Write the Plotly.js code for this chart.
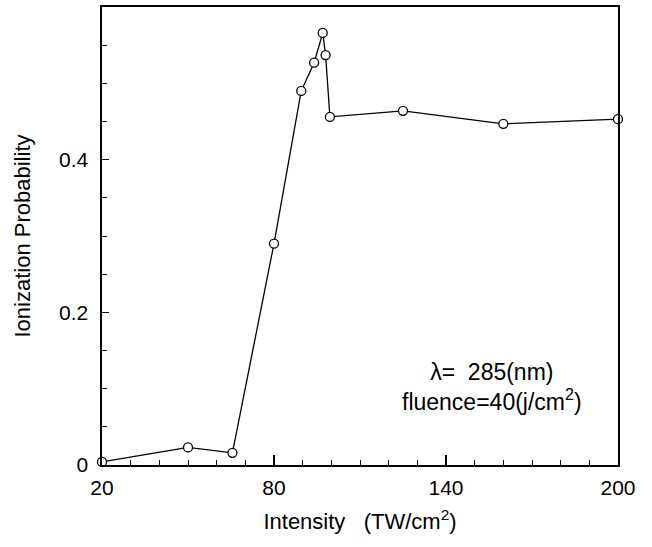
<!DOCTYPE html>
<html>
<head>
<meta charset="utf-8">
<script src="https://cdn.plot.ly/plotly-3.0.1.min.js"></script>
<style>html,body{margin:0;padding:0;background:#fff;}#chart{width:652px;height:547px;}</style>
</head>
<body>
<div id="chart"></div>
<script>
const intensity = [20, 50, 65.5, 80, 89.5, 94, 97, 98, 99.5, 125, 160, 200];
const probability = [0.004, 0.023, 0.016, 0.29, 0.49, 0.527, 0.566, 0.537, 0.456, 0.464, 0.447, 0.453];
const xTickVals = [20, 80, 140, 200];
const yTickVals = [0, 0.2, 0.4];
const yTickText = ['0', '0.2', '0.4'];
const noteText = 'λ=  285(nm)<br>fluence=40(j/cm<sup>2</sup>)';

const fontFam = 'Liberation Sans, Arial, sans-serif';

const trace = {
  x: intensity, y: probability, type: 'scatter', mode: 'lines+markers',
  line: {color: '#000', width: 1.3},
  marker: {symbol: 'circle', size: 9, color: '#fff', line: {color: '#000', width: 1.3}},
  cliponaxis: false, showlegend: false, hoverinfo: 'none'
};

const layout = {
  width: 652, height: 547,
  margin: {l: 102, r: 34, t: 7, b: 82},
  paper_bgcolor: '#fff', plot_bgcolor: '#fff',
  font: {family: fontFam, color: '#000', size: 21},
  xaxis: {
    range: [20, 200], tickvals: xTickVals, ticks: 'inside', ticklen: 10, tickwidth: 1.3, tickcolor: '#000',
    minor: {dtick: 10, ticks: 'inside', ticklen: 5, tickwidth: 1, tickcolor: '#000', showgrid: false},
    showline: true, linecolor: '#000', linewidth: 1.6, mirror: true, showgrid: false, zeroline: false,
    tickfont: {size: 21}, ticklabelstandoff: 3,
    title: {text: 'Intensity   (TW/cm<sup>2</sup>)', font: {size: 22}, standoff: 16}
  },
  yaxis: {
    range: [0, 0.6], tickvals: yTickVals, ticktext: yTickText, ticks: 'inside', ticklen: 7, tickwidth: 1.3, tickcolor: '#000',
    minor: {dtick: 0.05, ticks: 'inside', ticklen: 5, tickwidth: 1, tickcolor: '#000', showgrid: false},
    showline: true, linecolor: '#000', linewidth: 1.6, mirror: true, showgrid: false, zeroline: false,
    tickfont: {size: 21}, ticklabelstandoff: 8,
    title: {text: 'Ionization Probability', font: {size: 22}, standoff: 22}
  },
  annotations: [{
    x: 156, y: 0.102, xref: 'x', yref: 'y', text: noteText, showarrow: false,
    align: 'center', xanchor: 'center', yanchor: 'middle', font: {size: 23, color: '#000'}
  }]
};

Plotly.newPlot('chart', [trace], layout, {staticPlot: true, displayModeBar: false});
</script>
</body>
</html>
